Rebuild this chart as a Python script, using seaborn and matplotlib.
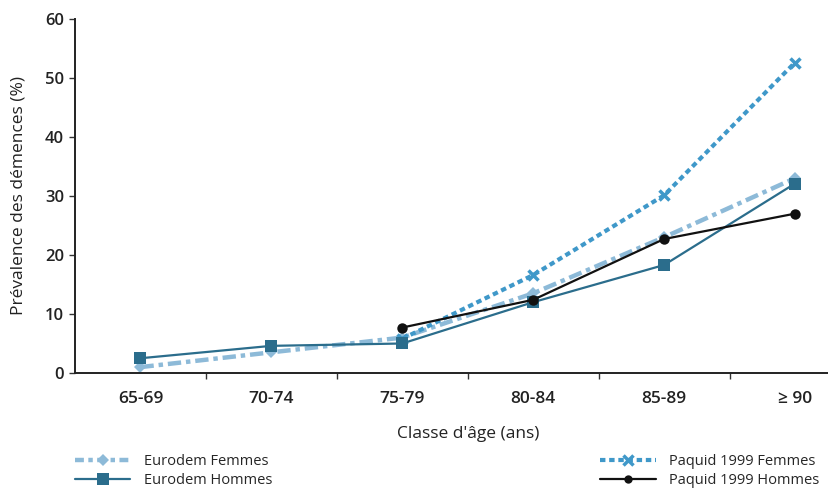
"""
Prévalence des démences par classe d'âge – Eurodem vs Paquid 1999
"""

import numpy as np
import pandas as pd
import matplotlib.pyplot as plt
import seaborn as sns
from matplotlib.lines import Line2D

# ── Data ────────────────────────────────────────────────────────────────────────
age_classes = ["65-69", "70-74", "75-79", "80-84", "85-89", "≥ 90"]

eurodem_femmes = [1.0, 3.5, 6.0, 13.5, 23.0, 33.0]
eurodem_hommes = [2.5, 4.6, 5.0, 12.0, 18.3, 32.1]
paquid_femmes  = [np.nan, np.nan, 5.8, 16.6, 30.1, 52.6]
paquid_hommes  = [np.nan, np.nan, 7.7, 12.4, 22.7, 27.0]

# ── Styles ──────────────────────────────────────────────────────────────────────
C_EF = "#8dbad8"
C_EH = "#2b6d8c"
C_PF = "#3f98c9"
C_PH = "#111111"
DASH_EF = [3, 1.1, 1, 1.1]
DASH_PF = [1.3, 0.9]

sns.set_theme(style="white")
plt.rcParams["font.family"] = ["Open Sans", "DejaVu Sans"]

fig = plt.figure(figsize=(8.29, 4.97), dpi=100)
ax = fig.add_axes([0.0905, 0.2495, 0.9095, 0.7125])

pos = np.arange(len(age_classes))
df = pd.DataFrame({"pos": pos, "ef": eurodem_femmes, "eh": eurodem_hommes,
                   "pf": paquid_femmes, "ph": paquid_hommes})

sns.lineplot(data=df, x="pos", y="ef", ax=ax, color=C_EF, lw=3.2,
             marker="D", markersize=6, markeredgewidth=0, zorder=2)
ax.lines[-1].set_dashes(DASH_EF)
sns.lineplot(data=df, x="pos", y="pf", ax=ax, color=C_PF, lw=3.0,
             marker="x", markersize=7.5, markeredgewidth=2.5,
             markeredgecolor=C_PF, zorder=3)
ax.lines[-1].set_dashes(DASH_PF)
sns.lineplot(data=df, x="pos", y="eh", ax=ax, color=C_EH, lw=1.6,
             marker="s", markersize=8, markeredgewidth=0, zorder=4)
sns.lineplot(data=df, x="pos", y="ph", ax=ax, color=C_PH, lw=1.6,
             marker="o", markersize=7.5, markeredgewidth=0, zorder=5)

# ── Axes ────────────────────────────────────────────────────────────────────────
ax.set_xlim(-0.5, 5.26)
ax.set_ylim(0, 60)
ax.set_yticks(range(0, 61, 10))
ax.set_xticks(pos)
ax.set_xticklabels(age_classes)
ax.set_xticks(pos[:-1] + 0.5, minor=True)
ax.tick_params(axis="x", which="major", length=0, pad=13, labelsize=12.5,
               labelcolor="#222222")
ax.tick_params(axis="x", which="minor", length=4, width=1, color="#333333",
               bottom=True, direction="out")
ax.tick_params(axis="y", length=4, width=1, color="#333333", left=True,
               labelsize=12, labelcolor="#222222", pad=4)
for lbl in ax.get_yticklabels() + ax.get_xticklabels():
    lbl.set_fontweight("semibold")

sns.despine(ax=ax)
for s in ["left", "bottom"]:
    ax.spines[s].set_color("#222222")
    ax.spines[s].set_linewidth(1.4)

ax.set_xlabel("Classe d'âge (ans)", fontsize=12.5, color="#222222")
ax.xaxis.set_label_coords(3.0 / 5.76, -0.15)
ax.set_ylabel("Prévalence des démences (%)", fontsize=12.5, color="#222222")
ax.yaxis.set_label_coords(-0.064, 0.5)

# ── Legends ─────────────────────────────────────────────────────────────────────
h_ef = Line2D([], [], color=C_EF, lw=3.2, marker="D", markersize=6,
              markeredgewidth=0, dashes=[2, 1, 1, 1])
h_eh = Line2D([], [], color=C_EH, lw=1.6, marker="s", markersize=8,
              markeredgewidth=0)
h_pf = Line2D([], [], color=C_PF, lw=3.0, marker="x", markersize=7,
              markeredgewidth=2.5, dashes=DASH_PF)
h_ph = Line2D([], [], color=C_PH, lw=1.6, marker="o", markersize=6,
              markeredgewidth=0)

leg_kw = dict(frameon=False, fontsize=10.5, handlelength=3.8,
              handletextpad=0.95, labelspacing=0.3, borderpad=0,
              borderaxespad=0)
leg1 = fig.legend([h_ef, h_eh], ["Eurodem Femmes", "Eurodem Hommes"],
                  loc="upper left", bbox_to_anchor=(0.0905, 0.087), **leg_kw)
leg2 = fig.legend([h_pf, h_ph], ["Paquid 1999 Femmes", "Paquid 1999 Hommes"],
                  loc="upper left", bbox_to_anchor=(0.724, 0.087), **leg_kw)

fig.savefig("out.png", dpi=100)
